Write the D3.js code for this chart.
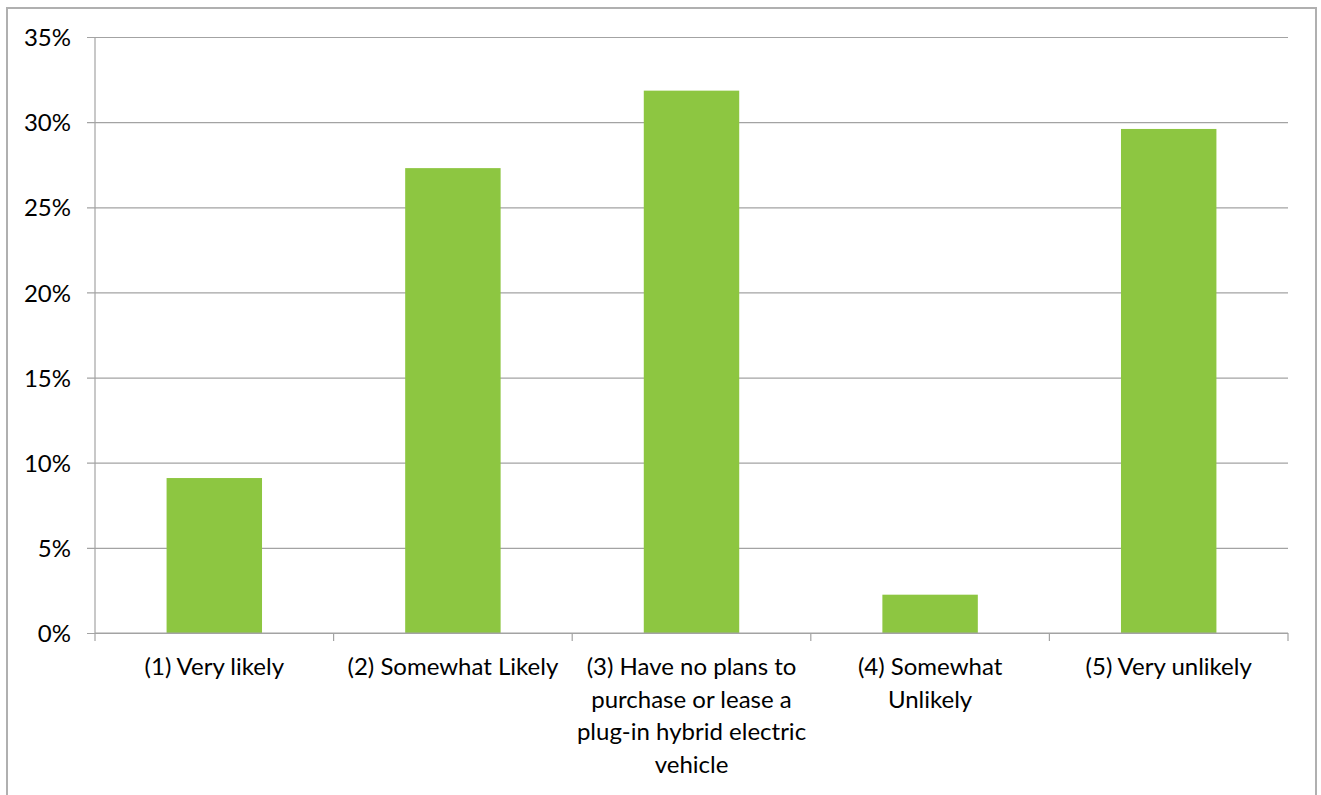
<!DOCTYPE html>
<html>
<head>
<meta charset="utf-8">
<script src="https://cdn.jsdelivr.net/npm/d3@7"></script>
<style>
  html, body { margin: 0; padding: 0; background: #ffffff; }
  svg { display: block; }
  text { font-family: Lato, "Open Sans", sans-serif; fill: #000000; }
</style>
</head>
<body>
<svg id="chart" width="1321" height="795"></svg>
<script>
// Survey responses: likelihood of purchasing or leasing a plug-in hybrid electric vehicle
const categories = [
  "(1) Very likely",
  "(2) Somewhat Likely",
  "(3) Have no plans to\npurchase or lease a\nplug-in hybrid electric\nvehicle",
  "(4) Somewhat\nUnlikely",
  "(5) Very unlikely"
];
const shares = [9.1, 27.3, 31.85, 2.25, 29.6];   // percent of respondents
const yTicks = [0, 5, 10, 15, 20, 25, 30, 35];

const svg = d3.select("#chart");
const plot = { left: 95, right: 1288, top: 37, bottom: 633 };
const gridColor = "#a3a3a3";
const barColor = "#8dc641";

// chart frame (bottom edge runs past the viewport)
svg.append("rect")
  .attr("x", 7).attr("y", 8)
  .attr("width", 1309).attr("height", 820)
  .attr("fill", "#ffffff")
  .attr("stroke", "#b0b0b0")
  .attr("stroke-width", 2);

const x = d3.scaleBand()
  .domain(categories)
  .range([plot.left, plot.right])
  .paddingInner(0.6)
  .paddingOuter(0.3);

const y = d3.scaleLinear()
  .domain([0, 35])
  .range([plot.bottom, plot.top]);

// horizontal gridlines + y axis labels
const yAxis = d3.axisLeft(y)
  .tickValues(yTicks)
  .tickSize(-(plot.right - plot.left))
  .tickSizeOuter(0)
  .tickPadding(24)
  .tickFormat(d => d + "%");

const gY = svg.append("g")
  .attr("transform", `translate(${plot.left},0)`)
  .call(yAxis);
gY.select(".domain").remove();
gY.selectAll(".tick line")
  .attr("x1", -8)
  .attr("stroke", gridColor)
  .attr("stroke-width", 1.2);
gY.selectAll(".tick text")
  .style("font-size", "24px")
  .attr("fill", "#000000")
  .attr("dy", "0.36em");

// vertical axis line
svg.append("line")
  .attr("x1", plot.left).attr("x2", plot.left)
  .attr("y1", plot.top).attr("y2", plot.bottom)
  .attr("stroke", gridColor).attr("stroke-width", 1.2);

// bars
svg.append("g")
  .selectAll("rect")
  .data(categories)
  .join("rect")
  .attr("x", d => x(d))
  .attr("width", x.bandwidth())
  .attr("y", (d, i) => y(shares[i]))
  .attr("height", (d, i) => y(0) - y(shares[i]))
  .attr("fill", barColor);

// category axis with tick marks between categories
const boundaries = d3.range(categories.length + 1)
  .map(i => plot.left + i * (plot.right - plot.left) / categories.length);

svg.append("line")
  .attr("x1", plot.left).attr("x2", plot.right)
  .attr("y1", y(0)).attr("y2", y(0))
  .attr("stroke", gridColor).attr("stroke-width", 1.2);

svg.append("g")
  .selectAll("line")
  .data(boundaries)
  .join("line")
  .attr("x1", d => d).attr("x2", d => d)
  .attr("y1", y(0)).attr("y2", y(0) + 8)
  .attr("stroke", gridColor).attr("stroke-width", 1.2);

// category labels (multi-line)
const labels = svg.append("g")
  .selectAll("text")
  .data(categories)
  .join("text")
  .attr("text-anchor", "middle")
  .style("font-size", "24px")
  .attr("x", d => x(d) + x.bandwidth() / 2)
  .attr("y", 675);

labels.each(function(d) {
  const t = d3.select(this);
  d.split("\n").forEach((line, k) => {
    t.append("tspan")
      .attr("x", x(d) + x.bandwidth() / 2)
      .attr("y", 675 + k * 32.5)
      .text(line);
  });
});
</script>
</body>
</html>
